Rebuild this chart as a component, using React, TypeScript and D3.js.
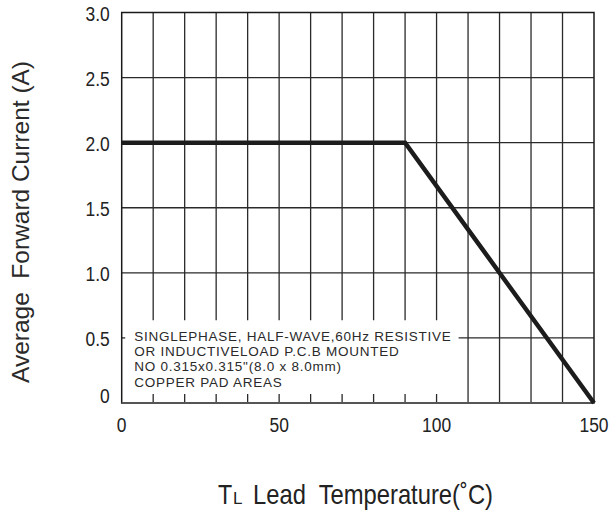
import * as React from 'react'
import * as d3 from 'd3'

const WIDTH = 613
const HEIGHT = 512
const PLOT_LEFT = 121.7
const PLOT_RIGHT = 594
const PLOT_TOP = 12.5
const PLOT_BOTTOM = 403
const FONT = '"Liberation Sans", Arial, Helvetica, sans-serif'
const SQUEEZE = 0.83

// derating curve: lead temperature (°C) vs average forward current (A)
const temperature = [0, 90, 150]
const current = [2.0, 2.0, 0]

const xTicks = [0, 50, 100, 150]
const yTicks = [0, 0.5, 1.0, 1.5, 2.0, 2.5, 3.0]
const gridX = [10, 20, 30, 40, 50, 60, 70, 80, 90, 100, 110, 120, 130, 140]
const gridY = [1.0, 1.5, 2.0, 2.5]
const noteLines = [
  'SINGLEPHASE, HALF-WAVE,60Hz RESISTIVE',
  'OR INDUCTIVELOAD P.C.B MOUNTED',
  'NO 0.315x0.315"(8.0 x 8.0mm)',
  'COPPER PAD AREAS'
]

// the note box covers the lower left part of the grid
const NOTE_TOP_VALUE = 0.635
const NOTE_RIGHT_VALUE = 107
const NOTE_GRID_END = 100

export default function App() {
  const x = d3.scaleLinear().domain([0, 150]).range([PLOT_LEFT, PLOT_RIGHT])
  const y = d3.scaleLinear().domain([0, 3]).range([PLOT_BOTTOM, PLOT_TOP])

  const line = d3
    .line<number>()
    .x((d, i) => x(temperature[i]))
    .y(d => y(d))

  const gridColor = '#2a2a2a'

  return (
    <svg
      width={WIDTH}
      height={HEIGHT}
      style={{ position: 'absolute', left: 0, top: 0, background: '#fff' }}
      fontFamily={FONT}
    >
      {/* vertical grid */}
      {gridX.map(v => {
        const covered = v <= NOTE_GRID_END
        return (
          <g key={'gx' + v}>
            <line
              x1={x(v)}
              x2={x(v)}
              y1={y(3)}
              y2={covered ? y(NOTE_TOP_VALUE) : y(0)}
              stroke={gridColor}
              strokeWidth={1.3}
            />
            {covered && (
              <line
                x1={x(v)}
                x2={x(v)}
                y1={y(0)}
                y2={y(0) - 9}
                stroke={gridColor}
                strokeWidth={1.3}
              />
            )}
          </g>
        )
      })}
      {/* horizontal grid */}
      {gridY.map(v => (
        <line
          key={'gy' + v}
          x1={x(0)}
          x2={x(150)}
          y1={y(v)}
          y2={y(v)}
          stroke={gridColor}
          strokeWidth={1.3}
        />
      ))}
      <line x1={x(0)} x2={x(0) + 3.5} y1={y(0.5)} y2={y(0.5)} stroke={gridColor} strokeWidth={1.3} />
      <line
        x1={x(NOTE_RIGHT_VALUE)}
        x2={x(150)}
        y1={y(0.5)}
        y2={y(0.5)}
        stroke={gridColor}
        strokeWidth={1.3}
      />
      {/* frame */}
      <rect
        x={x(0)}
        y={y(3)}
        width={x(150) - x(0)}
        height={y(0) - y(3)}
        fill="none"
        stroke="#1a1a1a"
        strokeWidth={1.5}
      />
      <line x1={x(0)} x2={x(150)} y1={y(0)} y2={y(0)} stroke="#555" strokeWidth={2} />

      {/* curve */}
      <path
        d={line(current) || ''}
        fill="none"
        stroke="#1c1c1c"
        strokeWidth={4.5}
        strokeLinejoin="miter"
      />

      {/* note */}
      {noteLines.map((t, i) => (
        <text
          key={'n' + i}
          x={x(4)}
          y={y(0.48) + i * 15.4}
          fontSize={13.5}
          letterSpacing={0.75}
          fill="#2a2a2a"
        >
          {t}
        </text>
      ))}

      {/* y tick labels */}
      {yTicks.map(v => (
        <text
          key={'yt' + v}
          transform={`translate(${x(0) - 12},${v === 0 ? y(0) : y(v) + 8}) scale(${SQUEEZE},1)`}
          textAnchor="end"
          fontSize={21}
          fill="#222"
        >
          {v === 0 ? '0' : v.toFixed(1)}
        </text>
      ))}
      {/* x tick labels */}
      {xTicks.map(v => (
        <text
          key={'xt' + v}
          transform={`translate(${x(v)},${y(0) + 29}) scale(${SQUEEZE},1)`}
          textAnchor="middle"
          fontSize={21}
          fill="#222"
        >
          {v}
        </text>
      ))}

      {/* axis titles */}
      <text
        transform={`translate(29,222) rotate(-90)`}
        textAnchor="middle"
        fontSize={24}
        fill="#2a2a2a"
        textLength={322}
        lengthAdjust="spacingAndGlyphs"
        style={{ whiteSpace: 'pre' }}
      >
        {'Average  Forward Current (A)'}
      </text>
      <text
        transform={`translate(218,504) scale(${SQUEEZE},1)`}
        fontSize={28}
        fill="#222"
      >
        T
      </text>
      <text x={233} y={504} fontSize={17} fill="#222">
        L
      </text>
      <text
        x={253}
        y={504}
        fontSize={28}
        fill="#222"
        textLength={240}
        lengthAdjust="spacingAndGlyphs"
        style={{ whiteSpace: 'pre' }}
      >
        {'Lead  Temperature(˚C)'}
      </text>
    </svg>
  )
}
